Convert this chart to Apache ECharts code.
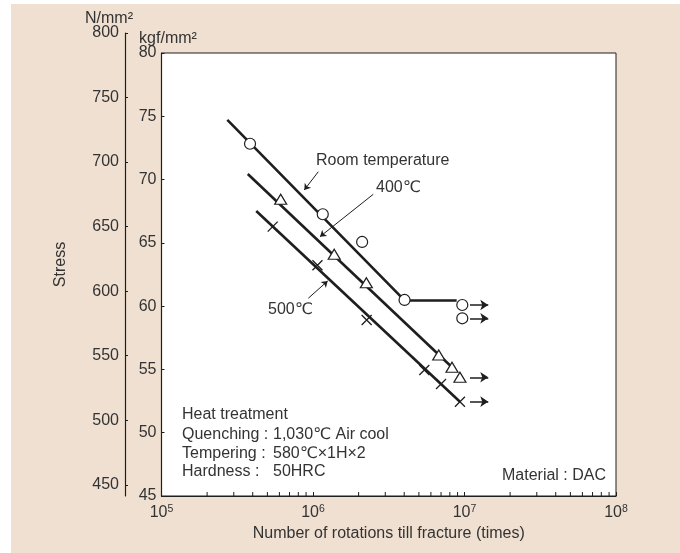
<!DOCTYPE html>
<html>
<head>
<meta charset="utf-8">
<script src="https://cdn.jsdelivr.net/npm/echarts@6/dist/echarts.min.js"></script>
<style>
  html, body { margin: 0; padding: 0; background: #fff; }
  #paper { position: absolute; left: 11px; top: 4px; width: 669px; height: 549px; background: #f0e0d2; }
  #chart { position: absolute; left: 0; top: 0; width: 680px; height: 553px; }
</style>
</head>
<body>
<div id="paper"></div>
<div id="chart"></div>
<script>
// 疲労試験データ（応力 kgf/mm2 vs 破断までの回転数）
var rtCycles  = [3.84e5, 1.16e6, 2.11e6, 4.02e6, 9.67e6, 9.67e6]
var rtStress  = [72.83, 67.26, 65.07, 60.49, 60.09, 59.04]
var t400Cycles = [6.12e5, 1.38e6, 2.25e6, 6.76e6, 8.27e6, 9.33e6]
var t400Stress = [68.44, 64.10, 61.85, 56.14, 55.17, 54.38]
var t500Cycles = [5.42e5, 1.07e6, 2.26e6, 5.43e6, 7.00e6, 9.33e6]
var t500Stress = [66.28, 63.23, 58.90, 54.95, 53.85, 52.45]

// 近似線
var rtLineCycles   = [2.72e5, 4.02e6, 8.88e6]
var rtLineStress   = [74.71, 60.45, 60.45]
var t400LineCycles = [3.71e5, 8.27e6]
var t400LineStress = [70.44, 55.17]
var t500LineCycles = [4.22e5, 9.33e6]
var t500LineStress = [67.52, 52.45]

// 未破断（矢印）
var runoutStress = [60.09, 59.04, 54.38, 52.45]
var runoutFrom = 1.087e7
var runoutTo = 1.435e7

// 軸目盛
var kgfTicks = [45, 50, 55, 60, 65, 70, 75, 80]
var nTicks = [450, 500, 550, 600, 650, 700, 750, 800]
var minorTicks = [2e5, 3e5, 4e5, 5e5, 6e5, 7e5, 8e5, 9e5,
                  2e6, 3e6, 4e6, 5e6, 6e6, 7e6, 8e6, 9e6,
                  2e7, 3e7, 4e7, 5e7, 6e7, 7e7, 8e7, 9e7]

// 引出線 [from, to]
var leaderRT  = [[1.084e6, 70.62], [8.76e5, 69.18]]
var leader400 = [[2.50e6, 68.84], [1.112e6, 65.49]]
var leader500 = [[9.31e5, 60.62], [1.25e6, 61.99]]

var KGF = 9.80665
var FONT = '"Liberation Sans", "DejaVu Sans", "Noto Sans CJK JP", sans-serif'
var FS = 16
var TXT = '#333'
var INK = '#1e1e1e'

function zip(xs, ys) {
    return xs.map(function (x, i) { return [x, ys[i]] })
}

var chart = echarts.init(document.getElementById('chart'))

var lineStyleFit = { color: INK, width: 2.6 }
var markerStyle = { color: '#fff', borderColor: INK, borderWidth: 1.2, opacity: 1 }

function fitLine(xs, ys) {
    return {
        type: 'line',
        data: zip(xs, ys),
        showSymbol: false,
        symbol: 'none',
        lineStyle: lineStyleFit,
        silent: true,
        z: 2
    }
}

function arrowData() {
    return runoutStress.map(function (s) {
        return { coords: [[runoutFrom, s], [runoutTo, s]] }
    })
}

function textEl(text, x, y, align) {
    return {
        type: 'text',
        x: x,
        y: y,
        silent: true,
        style: {
            text: text,
            fill: TXT,
            fontSize: FS,
            fontFamily: FONT,
            align: align || 'left',
            verticalAlign: 'middle'
        }
    }
}

chart.setOption({
    animation: false,
    textStyle: { fontFamily: FONT },
    grid: [
        { left: 161.5, top: 53, right: 64, bottom: 57, show: true, backgroundColor: '#fff', borderColor: INK, borderWidth: 1 },
        { left: 125, top: 33, width: 10, bottom: 57 }
    ],
    xAxis: [
        {
            type: 'log',
            gridIndex: 0,
            logBase: 10,
            min: 1e5,
            max: 1e8,
            name: 'Number of rotations till fracture (times)',
            nameLocation: 'middle',
            nameGap: 25,
            nameTextStyle: { color: TXT, fontSize: FS, fontFamily: FONT },
            axisLine: { show: true, lineStyle: { color: INK, width: 1.2 } },
            axisTick: { show: true, inside: true, length: 4, lineStyle: { color: INK } },
            splitLine: { show: false },
            axisLabel: {
                margin: 8,
                formatter: function (v) {
                    return '{b|10}{s|' + Math.round(Math.log10(v)) + '}'
                },
                rich: {
                    b: { fontSize: FS, color: TXT, fontFamily: FONT, lineHeight: 18 },
                    s: { fontSize: 10.5, color: TXT, fontFamily: FONT, verticalAlign: 'top', lineHeight: 12 }
                }
            }
        },
        { type: 'value', gridIndex: 1, show: false, min: 0, max: 1 }
    ],
    yAxis: [
        {
            type: 'value',
            gridIndex: 0,
            min: 45,
            max: 80,
            interval: 5,
            axisLine: { show: true, lineStyle: { color: INK, width: 1.2 } },
            axisTick: { show: true, inside: true, length: 3, lineStyle: { color: INK } },
            splitLine: { show: false },
            axisLabel: { color: TXT, fontSize: FS, fontFamily: FONT, margin: 5 }
        },
        {
            type: 'value',
            gridIndex: 1,
            position: 'left',
            min: 45 * KGF,
            max: 800,
            name: 'Stress',
            nameLocation: 'middle',
            nameRotate: 90,
            nameGap: 56,
            nameTextStyle: { color: TXT, fontSize: FS, fontFamily: FONT },
            axisLine: { show: true, lineStyle: { color: INK, width: 1.2 } },
            axisTick: { show: true, inside: true, length: 3, customValues: nTicks, lineStyle: { color: INK } },
            splitLine: { show: false },
            axisLabel: { color: TXT, fontSize: FS, fontFamily: FONT, margin: 6, customValues: nTicks }
        }
    ],
    graphic: [
        textEl('N/mm²', 109, 19, 'center'),
        textEl('kgf/mm²', 168, 39, 'center'),
        textEl('Room temperature', 316, 161),
        textEl('400℃', 376, 188),
        textEl('500℃', 268, 310),
        textEl('Heat treatment', 182, 415),
        textEl('Quenching :', 182, 434.5),
        textEl('1,030℃ Air cool', 273, 434.5),
        textEl('Tempering :', 182, 453.5),
        textEl('580℃×1H×2', 273, 453.5),
        textEl('Hardness :', 182, 472),
        textEl('50HRC', 273, 472),
        textEl('Material : DAC', 606, 476, 'right')
    ],
    series: [
        fitLine(rtLineCycles, rtLineStress),
        fitLine(t400LineCycles, t400LineStress),
        fitLine(t500LineCycles, t500LineStress),
        {
            type: 'scatter',
            name: 'Room temperature',
            data: zip(rtCycles, rtStress),
            symbol: 'circle',
            symbolSize: 11,
            itemStyle: markerStyle,
            z: 5
        },
        {
            type: 'scatter',
            name: '400℃',
            data: zip(t400Cycles, t400Stress),
            symbol: 'triangle',
            symbolSize: [12, 10],
            itemStyle: markerStyle,
            z: 5
        },
        {
            type: 'scatter',
            name: '500℃',
            data: zip(t500Cycles, t500Stress),
            symbol: 'path://M0,0L10,10M10,0L0,10',
            symbolSize: 10,
            itemStyle: { color: 'transparent', borderColor: INK, borderWidth: 1.3, opacity: 1 },
            z: 5
        },
        {
            // 未破断の矢印
            type: 'lines',
            coordinateSystem: 'cartesian2d',
            data: arrowData(),
            symbol: ['none', 'arrow'],
            symbolSize: 8,
            lineStyle: { color: INK, width: 1.5, opacity: 1 },
            silent: true,
            z: 4
        },
        {
            // 引出線
            type: 'lines',
            coordinateSystem: 'cartesian2d',
            data: [{ coords: leaderRT }, { coords: leader400 }, { coords: leader500 }],
            symbol: ['none', 'arrow'],
            symbolSize: 6,
            lineStyle: { color: INK, width: 1, opacity: 1 },
            silent: true,
            z: 4
        },
        {
            // 対数軸の補助目盛
            type: 'scatter',
            data: minorTicks.map(function (v) { return [v, 45] }),
            symbol: 'rect',
            symbolSize: [1, 4],
            symbolOffset: [0, -2],
            itemStyle: { color: INK, opacity: 1 },
            clip: false,
            silent: true,
            z: 6
        }
    ]
})
</script>
</body>
</html>
